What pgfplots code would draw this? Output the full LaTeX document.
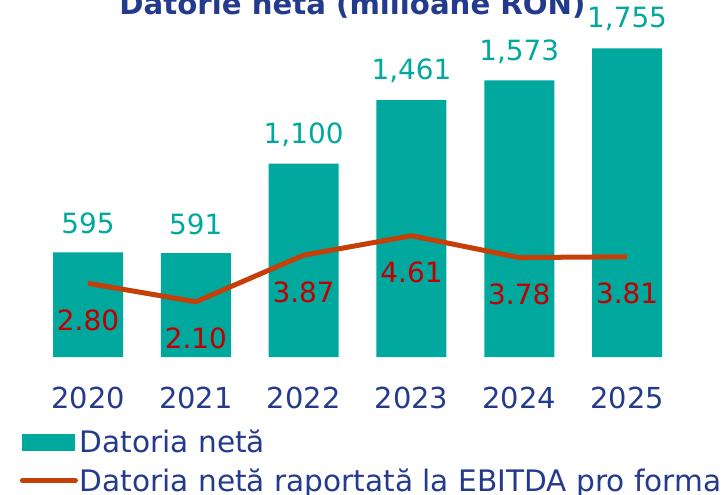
\documentclass[border=0pt]{standalone}
\usepackage{pgfplots}
\pgfplotsset{compat=1.18}
\usepackage{fontspec}
\setmainfont{DejaVu Sans}
\definecolor{barteal}{RGB}{0,168,157}
\definecolor{lineorange}{RGB}{196,64,8}
\definecolor{labred}{RGB}{192,0,0}
\definecolor{darkblue}{RGB}{36,58,140}
\begin{document}
\begin{tikzpicture}
\pgfplotsset{
  base/.style={
    scale only axis,
    width=625.3bp, height=327bp,
    xmin=-0.4, xmax=5.4,
    axis line style={draw=none},
    major tick length=0pt,
    clip=false,
    /pgf/number format/assume math mode=true,
  }
}
\begin{axis}[
    base,
    ymin=0, ymax=1859,
    ybar, bar width=70bp,
    xtick={0,...,5},
    xticklabels={2020,2021,2022,2023,2024,2025},
    xticklabel style={font=\fontsize{29}{32}\selectfont, text=darkblue, yshift=-27bp},
    ytick=\empty,
    nodes near coords,
    every node near coord/.append style={font=\fontsize{28}{30}\selectfont, text=barteal, anchor=center, yshift=29bp},
    /pgf/number format/1000 sep={,},
    legend style={at={(-0.040,-0.218)}, anchor=north west, draw=none, fill=none,
      font=\fontsize{29.7}{32}\selectfont, text=darkblue, row sep=10bp,
      inner sep=0pt, outer sep=0pt},
    legend cell align=left,
]
\addplot[fill=barteal, draw=none,
  area legend,
  legend image code/.code={\fill[barteal] (0bp,-8.5bp) rectangle (53bp,8.5bp);}]
  coordinates {(0,595) (1,591) (2,1100) (3,1461) (4,1573) (5,1755)};
\addlegendentry{Datoria netă}
\addlegendimage{legend image code/.code={\draw[lineorange, line width=5bp, line cap=round] (0bp,0bp) -- (53bp,0bp);}}
\addlegendentry{Datoria netă raportată la EBITDA pro forma}
\end{axis}
\begin{axis}[
    base,
    ymin=0, ymax=12.43,
    xtick=\empty, ytick=\empty,
    nodes near coords,
    every node near coord/.append style={font=\fontsize{28}{30}\selectfont, text=labred, anchor=center, yshift=-37bp},
    /pgf/number format/.cd, fixed, fixed zerofill, precision=2,
]
\addplot[lineorange, line width=5bp, mark=none]
  coordinates {(0,2.80) (1,2.10) (2,3.87) (3,4.61) (4,3.78) (5,3.81)};
\end{axis}
\node[font=\bfseries\fontsize{29.3}{32}\selectfont, text=darkblue, anchor=base]
  at (307.6bp,342bp) {Datorie netă (milioane RON)};
\pgfresetboundingbox
\path[use as bounding box] (-44.9bp,-138bp) rectangle (682.1bp,357bp);
\end{tikzpicture}
\end{document}
